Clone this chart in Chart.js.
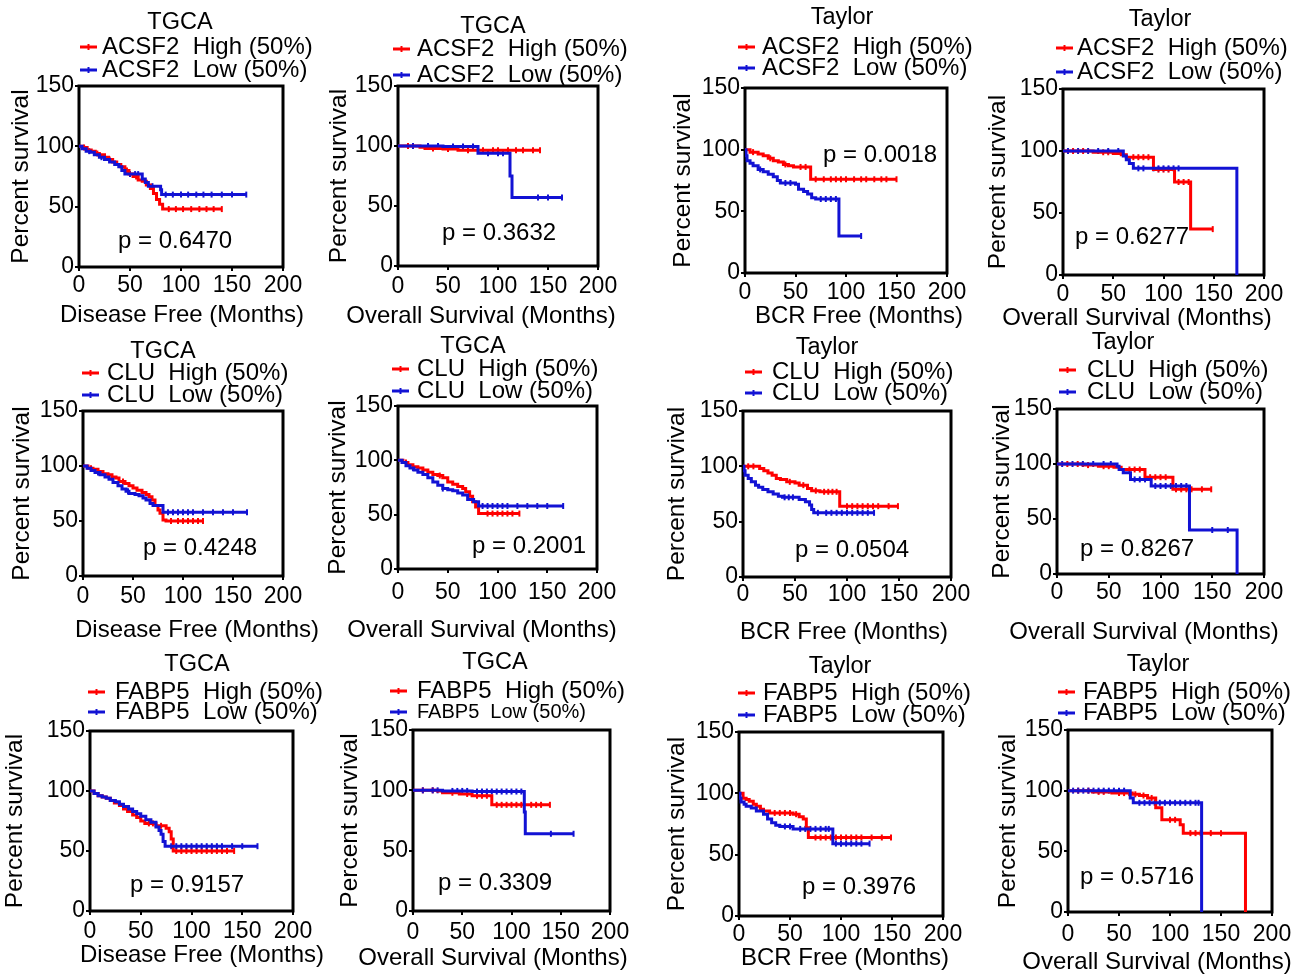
<!DOCTYPE html>
<html><head><meta charset="utf-8">
<script src="https://cdn.jsdelivr.net/npm/chart.js@4.4.1/dist/chart.umd.min.js"></script>
<style>
html,body{margin:0;padding:0;background:#fff;}
#wrap{position:relative;width:1297px;height:980px;overflow:hidden;background:#fff;}
#wrap canvas{position:absolute;left:0;top:0;}
</style></head><body><div id="wrap"></div>
<script>
// ---------- categories / labels ----------
const genes = ['ACSF2', 'CLU', 'FABP5'];
const cohorts = ['TGCA', 'TGCA', 'Taylor', 'Taylor'];
const endpoints = ['Disease Free (Months)', 'Overall Survival (Months)', 'BCR Free (Months)', 'Overall Survival (Months)'];
const yAxisTitle = 'Percent survival';
const xTicks = [0, 50, 100, 150, 200];
const yTicks = [0, 50, 100, 150];
const pValues = [
  ['0.6470', '0.3632', '0.0018', '0.6277'],
  ['0.4248', '0.2001', '0.0504', '0.8267'],
  ['0.9157', '0.3309', '0.3976', '0.5716']
];

// ---------- survival steps [month, percent] and censor months ----------
// ACSF2
const acsf2TcgaDfsHigh = [[0,100],[4,99],[8,97],[12,96],[16,94],[20,93],[25,91],[29,89],[33,87],[37,85],[41,83],[45,80],[49,77],[53,75],[58,72],[62,71],[66,68],[70,65],[73,61],[76,56],[79,52],[82,48],[140,48]];
const acsf2TcgaDfsLow = [[0,100],[3,98],[7,96],[11,95],[15,93],[20,91],[25,89],[30,87],[35,85],[39,83],[42,80],[45,77],[62,73],[65,70],[68,67],[80,64],[81,60],[164,60]];
const acsf2TcgaDfsHighCens = [5,18,30,47,56,88,95,102,110,118,125,132,140];
const acsf2TcgaDfsLowCens = [10,22,50,55,58,72,85,92,100,107,115,122,130,140,150,164];

const acsf2TcgaOsHigh = [[0,100],[22,99],[27,98],[45,97.5],[60,96.5],[142,96.5]];
const acsf2TcgaOsLow = [[0,100],[45,99.5],[80,94],[112,75],[114,57],[164,57]];
const acsf2TcgaOsHighCens = [10,35,50,70,85,95,100,110,118,125,135,142];
const acsf2TcgaOsLowCens = [15,30,40,55,65,75,90,100,105,140,150,164];

const acsf2TaylorBcrHigh = [[0,100],[5,98],[13,96.5],[18,95],[23,93],[28,91],[33,90],[38,88],[43,87],[48,86],[65,76],[150,76]];
const acsf2TaylorBcrLow = [[0,100],[1,95],[2,91],[5,89],[8,87],[13,84],[18,82],[23,80],[28,78],[32,75],[35,73],[50,72],[53,68],[58,66],[62,64],[66,61],[70,60],[93,30],[115,30]];
const acsf2TaylorBcrHighCens = [8,25,40,55,60,70,78,85,90,95,100,108,115,120,128,135,140,150];
const acsf2TaylorBcrLowCens = [15,40,45,75,80,85,90,115];

const acsf2TaylorOsHigh = [[0,100],[30,99],[50,98],[58,97],[63,95],[90,85],[111,75],[127,37],[149,37]];
const acsf2TaylorOsLow = [[0,100],[60,96],[63,93],[66,90],[70,86],[173,0]];
const acsf2TaylorOsHighCens = [10,20,40,45,70,75,80,85,95,100,105,115,120,125,149];
const acsf2TaylorOsLowCens = [5,15,25,35,45,55,75,80,90,95,100,105,110,115];

// CLU
const cluTcgaDfsHigh = [[0,100],[5,98],[10,97],[15,95],[20,93],[25,92],[29,90],[33,89],[36,86],[42,84],[46,82],[50,80],[54,78],[59,76],[63,74],[66,72],[69,69],[72,64],[75,60],[77,57],[80,51],[83,50],[120,50]];
const cluTcgaDfsLow = [[0,100],[4,98],[8,96],[12,94],[17,92],[22,90],[26,88],[30,85],[35,82],[39,79],[43,77],[46,75],[52,74],[56,73],[60,71],[63,69],[67,66],[70,64],[80,58],[164,58]];
const cluTcgaDfsHighCens = [8,40,88,95,100,105,110,115,120];
const cluTcgaDfsLowCens = [15,45,85,90,95,100,105,110,120,130,140,150,164];

const cluTcgaOsHigh = [[0,100],[5,98],[10,96],[15,94],[20,93],[25,91],[30,89],[35,87],[40,86],[45,84],[50,80],[55,78],[60,76],[65,74],[68,71],[72,67],[75,62],[78,57],[81,51],[122,51]];
const cluTcgaOsLow = [[0,100],[4,98],[8,95],[12,93],[16,91],[20,89],[25,87],[30,84],[35,80],[40,77],[45,74],[50,73],[55,72],[60,70],[65,68],[70,64],[76,62],[81,58],[166,58]];
const cluTcgaOsHighCens = [8,42,90,95,100,105,110,115,122];
const cluTcgaOsLowCens = [15,45,85,90,95,100,105,110,120,130,140,150,166];

const cluTaylorBcrHigh = [[0,100],[16,98],[20,96],[24,94],[28,92],[32,89],[36,88],[42,86],[50,85],[54,83],[62,80],[66,78],[74,77],[93,64],[149,64]];
const cluTaylorBcrLow = [[0,100],[1,96],[2,92],[5,89],[8,86],[12,83],[15,81],[19,79],[24,77],[29,75],[34,73],[38,72],[54,70],[60,68],[64,65],[66,61],[68,58],[126,58]];
const cluTaylorBcrHighCens = [5,10,45,58,70,78,82,86,90,100,105,110,115,120,125,130,140,149];
const cluTaylorBcrLowCens = [40,44,48,72,80,85,90,95,100,105,110,115,120,126];

const cluTaylorOsHigh = [[0,100],[25,99],[40,98],[55,97],[62,95],[85,88],[112,77],[149,77]];
const cluTaylorOsLow = [[0,100],[58,98],[60,95],[64,92],[71,86],[91,80],[128,40],[174,0]];
const cluTaylorOsHighCens = [10,20,30,45,50,70,75,80,90,95,100,105,115,120,125,130,140,149];
const cluTaylorOsLowCens = [5,15,25,35,45,52,75,80,85,95,100,105,110,115,120,125,150,165];

// FABP5
const fabp5TcgaDfsHigh = [[0,100],[4,98],[8,96],[12,95],[16,94],[20,92],[24,90],[29,88],[33,85],[37,83],[42,80],[46,78],[50,75],[54,73],[65,71],[75,69],[78,66],[80,60],[82,50],[142,50]];
const fabp5TcgaDfsLow = [[0,100],[4,98],[8,96],[12,95],[16,94],[20,92],[25,91],[29,89],[33,87],[38,85],[42,83],[46,81],[50,79],[55,76],[60,74],[65,70],[68,67],[70,64],[72,58],[74,54],[165,54]];
const fabp5TcgaDfsHighCens = [58,62,70,85,90,95,100,105,110,115,120,125,130,135,142];
const fabp5TcgaDfsLowCens = [80,85,90,95,100,105,110,115,120,125,130,140,150,165];

const fabp5TcgaOsHigh = [[0,100],[25,99.5],[30,98],[47,97],[60,95.5],[80,88],[139,88]];
const fabp5TcgaOsLow = [[0,100],[30,99.5],[60,99],[113,82],[114,64],[163,64]];
const fabp5TcgaOsHighCens = [10,20,40,55,65,70,75,85,90,95,100,105,110,120,125,130,139];
const fabp5TcgaOsLowCens = [10,20,25,40,45,50,55,65,70,75,80,85,90,95,100,105,110,140,163];

const fabp5TaylorBcrHigh = [[0,100],[4,96],[7,95],[10,93.5],[14,91],[17,89.5],[21,87],[24,85.5],[30,84],[53,83],[59,81],[63,79],[66,72],[68,64],[149,64]];
const fabp5TaylorBcrLow = [[0,100],[1,96],[2,93],[5,91],[7,89.5],[12,88],[17,85.5],[24,83],[28,79],[32,76],[36,74],[40,73],[53,71],[92,59],[128,59]];
const fabp5TaylorBcrHighCens = [35,40,45,50,56,75,80,85,90,95,100,105,110,115,120,130,140,149];
const fabp5TaylorBcrLowCens = [45,50,60,65,70,75,80,85,88,95,100,105,110,115,120,128];

const fabp5TaylorOsHigh = [[0,100],[24,99],[43,98],[63,97],[70,96],[78,94],[86,86],[92,76],[110,72],[113,65],[174,0]];
const fabp5TaylorOsLow = [[0,100],[61,94],[64,90],[131,0]];
const fabp5TaylorOsHighCens = [10,20,30,35,50,55,60,66,74,82,100,105,120,125,130,140,150];
const fabp5TaylorOsLowCens = [5,10,15,20,25,30,35,40,45,50,55,70,75,80,85,90,95,100,105,110,115,120,125,128];

// panels in reading order: [high, low, highCensor, lowCensor]
const panelSeries = [
  [acsf2TcgaDfsHigh, acsf2TcgaDfsLow, acsf2TcgaDfsHighCens, acsf2TcgaDfsLowCens],
  [acsf2TcgaOsHigh, acsf2TcgaOsLow, acsf2TcgaOsHighCens, acsf2TcgaOsLowCens],
  [acsf2TaylorBcrHigh, acsf2TaylorBcrLow, acsf2TaylorBcrHighCens, acsf2TaylorBcrLowCens],
  [acsf2TaylorOsHigh, acsf2TaylorOsLow, acsf2TaylorOsHighCens, acsf2TaylorOsLowCens],
  [cluTcgaDfsHigh, cluTcgaDfsLow, cluTcgaDfsHighCens, cluTcgaDfsLowCens],
  [cluTcgaOsHigh, cluTcgaOsLow, cluTcgaOsHighCens, cluTcgaOsLowCens],
  [cluTaylorBcrHigh, cluTaylorBcrLow, cluTaylorBcrHighCens, cluTaylorBcrLowCens],
  [cluTaylorOsHigh, cluTaylorOsLow, cluTaylorOsHighCens, cluTaylorOsLowCens],
  [fabp5TcgaDfsHigh, fabp5TcgaDfsLow, fabp5TcgaDfsHighCens, fabp5TcgaDfsLowCens],
  [fabp5TcgaOsHigh, fabp5TcgaOsLow, fabp5TcgaOsHighCens, fabp5TcgaOsLowCens],
  [fabp5TaylorBcrHigh, fabp5TaylorBcrLow, fabp5TaylorBcrHighCens, fabp5TaylorBcrLowCens],
  [fabp5TaylorOsHigh, fabp5TaylorOsLow, fabp5TaylorOsHighCens, fabp5TaylorOsLowCens]
];

// ---------- layout (page pixels) ----------
const panelLayout = [
  {L:79,  R:283,  T:86,  B:267, tickY:286, yTitleX:21,   xTitleX:182,  xTitleY:315, titleX:180,  titleY:23,  legX:80,   legTextX:102,  legY1:47,  legY2:70,  pX:118,  pY:241},
  {L:398, R:598,  T:86,  B:266, tickY:287, yTitleX:339,  xTitleX:481,  xTitleY:316, titleX:493,  titleY:27,  legX:393,  legTextX:417,  legY1:49,  legY2:75,  pX:442,  pY:233},
  {L:745, R:947,  T:88,  B:273, tickY:293, yTitleX:683,  xTitleX:859,  xTitleY:316, titleX:842,  titleY:18,  legX:738,  legTextX:762,  legY1:47,  legY2:68,  pX:823,  pY:155},
  {L:1063,R:1264, T:89,  B:275, tickY:295, yTitleX:998,  xTitleX:1137, xTitleY:318, titleX:1160, titleY:20,  legX:1056, legTextX:1077, legY1:48,  legY2:72,  pX:1075, pY:237},
  {L:83,  R:283,  T:411, B:576, tickY:597, yTitleX:22,   xTitleX:197,  xTitleY:630, titleX:163,  titleY:352, legX:82,   legTextX:107,  legY1:373, legY2:395, pX:143,  pY:548},
  {L:398, R:597,  T:406, B:569, tickY:593, yTitleX:338,  xTitleX:482,  xTitleY:630, titleX:473,  titleY:347, legX:392,  legTextX:417,  legY1:369, legY2:391, pX:472,  pY:546},
  {L:743, R:951,  T:411, B:577, tickY:595, yTitleX:677,  xTitleX:844,  xTitleY:632, titleX:827,  titleY:348, legX:745,  legTextX:772,  legY1:372, legY2:393, pX:795,  pY:550},
  {L:1057,R:1264, T:409, B:574, tickY:593, yTitleX:1002, xTitleX:1144, xTitleY:632, titleX:1123, titleY:343, legX:1059, legTextX:1087, legY1:370, legY2:392, pX:1080, pY:549},
  {L:90,  R:293,  T:731, B:911, tickY:932, yTitleX:15,   xTitleX:202,  xTitleY:955, titleX:197,  titleY:665, legX:88,   legTextX:115,  legY1:692, legY2:712, pX:130,  pY:885},
  {L:413, R:610,  T:730, B:911, tickY:933, yTitleX:350,  xTitleX:493,  xTitleY:958, titleX:495,  titleY:663, legX:390,  legTextX:417,  legY1:691, legY2:712, pX:438,  pY:883, leg2Size:20},
  {L:739, R:943,  T:732, B:916, tickY:935, yTitleX:677,  xTitleX:845,  xTitleY:958, titleX:840,  titleY:667, legX:738,  legTextX:763,  legY1:693, legY2:715, pX:802,  pY:887},
  {L:1068,R:1272, T:730, B:912, tickY:935, yTitleX:1008, xTitleX:1157, xTitleY:962, titleX:1158, titleY:665, legX:1058, legTextX:1083, legY1:692, legY2:713, pX:1080, pY:877}
];

const FONT = "'Liberation Sans', Arial, Helvetica, sans-serif";
const RED = '#ff0000';
const BLUE = '#1212d4';
const PAGE_W = 1297, PAGE_H = 980;
const TICK_SIZE = 23, AXIS_TITLE_SIZE = 24, Y_TITLE_SIZE = 24.5, TEXT_SIZE = 23.5, LEGEND_SIZE = 24, P_SIZE = 24;
const LINE_H = 1.2;

Chart.defaults.font.family = FONT;
Chart.defaults.color = '#000';

function levelAt(steps, t) {
  let y = steps[0][1];
  for (const [x, v] of steps) { if (x <= t) y = v; else break; }
  return y;
}

const panelText = {
  id: 'panelText',
  beforeDatasetsDraw(chart) {
    const {ctx, chartArea: a} = chart;
    ctx.save();
    ctx.strokeStyle = '#000';
    ctx.lineWidth = 3;
    ctx.strokeRect(a.left, a.top, a.right - a.left, a.bottom - a.top);
    ctx.restore();
  },
  afterDraw(chart, args, o) {
    const ctx = chart.ctx;
    const L = o.lay;
    ctx.save();
    ctx.fillStyle = '#000';
    ctx.textBaseline = 'middle';
    ctx.textAlign = 'center';
    ctx.font = TEXT_SIZE + 'px ' + FONT;
    ctx.fillText(o.title, L.titleX, L.titleY);
    ctx.font = AXIS_TITLE_SIZE + 'px ' + FONT;
    ctx.fillText(o.xTitle, L.xTitleX, L.xTitleY);
    ctx.textAlign = 'left';
    o.legend.forEach((item, k) => {
      const y = k === 0 ? L.legY1 : L.legY2;
      ctx.strokeStyle = item.color;
      ctx.lineWidth = 3;
      ctx.beginPath(); ctx.moveTo(L.legX, y); ctx.lineTo(L.legX + 17, y); ctx.stroke();
      ctx.lineWidth = 2;
      ctx.beginPath(); ctx.moveTo(L.legX + 8.5, y - 3); ctx.lineTo(L.legX + 8.5, y + 3); ctx.stroke();
      ctx.font = item.size + 'px ' + FONT;
      ctx.fillText(item.text, L.legTextX, y);
    });
    ctx.font = P_SIZE + 'px ' + FONT;
    ctx.fillText('p = ' + o.p, L.pX, L.pY);
    ctx.restore();
  }
};

const wrap = document.getElementById('wrap');

panelSeries.forEach((s, i) => {
  const row = Math.floor(i / 4), col = i % 4;
  const lay = panelLayout[i];
  const [high, low, highCens, lowCens] = s;
  const gene = genes[row];
  const tLH = Y_TITLE_SIZE * LINE_H;
  const yw = lay.L - (lay.yTitleX - tLH / 2);
  const xh = (lay.xTitleY + AXIS_TITLE_SIZE * LINE_H / 2) - lay.B;
  const xPad = Math.max(0, lay.tickY - lay.B - 4 - TICK_SIZE * LINE_H / 2);

  const canvas = document.createElement('canvas');
  canvas.width = PAGE_W; canvas.height = PAGE_H;
  canvas.style.width = PAGE_W + 'px'; canvas.style.height = PAGE_H + 'px';
  wrap.appendChild(canvas);

  const stepLine = (steps, color) => ({
    data: steps.map(([x, y]) => ({x, y})),
    borderColor: color, backgroundColor: color,
    borderWidth: 3, stepped: 'before', pointRadius: 0, fill: false,
    borderCapStyle: 'butt', borderJoinStyle: 'miter'
  });
  const censorMarks = (times, steps, color) => ({
    data: times.map(t => ({x: t, y: levelAt(steps, t)})),
    showLine: false, pointStyle: 'line', rotation: 90,
    pointRadius: 3, pointBorderWidth: 2,
    pointBorderColor: color, borderColor: color, backgroundColor: color
  });

  new Chart(canvas, {
    type: 'line',
    data: {
      datasets: [
        stepLine(low, BLUE),
        stepLine(high, RED),
        censorMarks(lowCens, low, BLUE),
        censorMarks(highCens, high, RED)
      ]
    },
    options: {
      responsive: false, animation: false, events: [], devicePixelRatio: 1,
      layout: { padding: { left: lay.L - yw, top: lay.T, right: PAGE_W - lay.R, bottom: PAGE_H - lay.B - xh } },
      plugins: {
        legend: { display: false }, tooltip: { enabled: false }, title: { display: false },
        panelText: {
          lay,
          title: cohorts[col],
          xTitle: endpoints[col],
          p: pValues[row][col],
          legend: [
            { text: gene + '  High (50%)', color: RED, size: LEGEND_SIZE },
            { text: gene + '  Low (50%)', color: BLUE, size: lay.leg2Size || LEGEND_SIZE }
          ]
        }
      },
      scales: {
        x: {
          type: 'linear', min: xTicks[0], max: xTicks[xTicks.length - 1],
          afterBuildTicks: sc => { sc.ticks = xTicks.map(v => ({value: v})); },
          afterFit: sc => { sc.height = xh; },
          grid: { display: true, drawOnChartArea: false, drawTicks: true, tickLength: 4, color: '#000', lineWidth: 2 },
          border: { display: false },
          ticks: { font: { size: TICK_SIZE }, padding: xPad, maxRotation: 0, autoSkip: false, color: '#000' },
          title: { display: false }
        },
        y: {
          type: 'linear', min: yTicks[0], max: yTicks[yTicks.length - 1],
          afterBuildTicks: sc => { sc.ticks = yTicks.map(v => ({value: v})); },
          afterFit: sc => { sc.width = yw; },
          grid: { display: true, drawOnChartArea: false, drawTicks: true, tickLength: 4, color: '#000', lineWidth: 2 },
          border: { display: false },
          ticks: { font: { size: TICK_SIZE }, padding: 1, autoSkip: false, color: '#000' },
          title: { display: true, text: yAxisTitle, font: { size: Y_TITLE_SIZE }, padding: 0, color: '#000' }
        }
      }
    },
    plugins: [panelText]
  });
});
</script>
</body></html>
